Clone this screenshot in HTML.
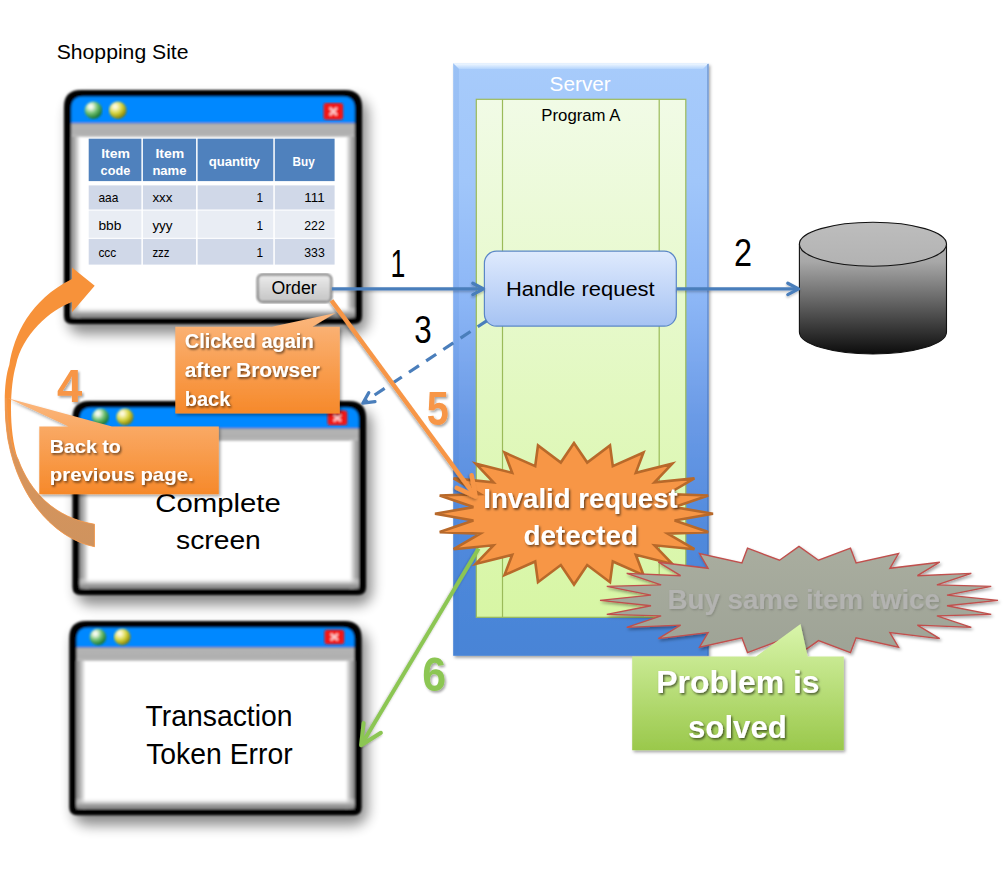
<!DOCTYPE html>
<html><head><meta charset="utf-8"><title>Shopping Site - Transaction Token</title>
<style>html,body{margin:0;padding:0;background:#fff;width:1007px;height:889px;overflow:hidden}svg{display:block;font-family:"Liberation Sans",sans-serif}</style>
</head><body>
<svg width="1007" height="889" viewBox="0 0 1007 889" font-family="Liberation Sans, sans-serif">

<defs>
<filter id="shadow" x="-20%" y="-20%" width="140%" height="140%"><feGaussianBlur stdDeviation="6.5"/></filter>
<filter id="soft" x="-5%" y="-5%" width="110%" height="110%"><feGaussianBlur stdDeviation="0.9"/></filter>
<filter id="tsh" x="-10%" y="-20%" width="120%" height="150%"><feDropShadow dx="1.3" dy="1.6" stdDeviation="0.9" flood-color="#000" flood-opacity="0.6"/></filter>
<filter id="tsh2" x="-10%" y="-20%" width="130%" height="150%"><feDropShadow dx="1.5" dy="1.8" stdDeviation="1" flood-color="#000" flood-opacity="0.35"/></filter>
<filter id="tsh3" x="-10%" y="-20%" width="120%" height="150%"><feDropShadow dx="1" dy="1.2" stdDeviation="0.8" flood-color="#000" flood-opacity="0.18"/></filter>
<filter id="bsh" x="-10%" y="-10%" width="130%" height="140%"><feDropShadow dx="1.5" dy="2" stdDeviation="1.5" flood-color="#000" flood-opacity="0.35"/></filter>
<filter id="ash" x="-5%" y="-50%" width="110%" height="200%"><feDropShadow dx="0" dy="1.5" stdDeviation="1" flood-color="#000" flood-opacity="0.25"/></filter>
<filter id="lsh" x="-10%" y="-10%" width="130%" height="130%"><feDropShadow dx="-1" dy="1.5" stdDeviation="1.2" flood-color="#000" flood-opacity="0.3"/></filter>
<linearGradient id="gL" x1="0" x2="1" y1="0" y2="0"><stop offset="0" stop-color="#8a8a8a"/><stop offset="0.35" stop-color="#a9a9a9"/><stop offset="0.7" stop-color="#d5d5d5"/><stop offset="1" stop-color="#fff"/></linearGradient>
<linearGradient id="gR" x1="1" x2="0" y1="0" y2="0"><stop offset="0" stop-color="#8a8a8a"/><stop offset="0.35" stop-color="#a9a9a9"/><stop offset="0.7" stop-color="#d5d5d5"/><stop offset="1" stop-color="#fff"/></linearGradient>
<linearGradient id="gB" x1="0" x2="0" y1="1" y2="0"><stop offset="0" stop-color="#7e7e7e"/><stop offset="0.4" stop-color="#a8a8a8"/><stop offset="1" stop-color="#fff" stop-opacity="0"/></linearGradient>
<linearGradient id="gband" x1="0" x2="0" y1="0" y2="1"><stop offset="0" stop-color="#b4b4b4"/><stop offset="0.8" stop-color="#afafaf"/><stop offset="1" stop-color="#c4c4c4"/></linearGradient>
<radialGradient id="ballG" cx="0.35" cy="0.3" r="0.78"><stop offset="0" stop-color="#ffffff"/><stop offset="0.15" stop-color="#eef8e6"/><stop offset="0.5" stop-color="#6cbf6e"/><stop offset="1" stop-color="#05601c"/></radialGradient>
<radialGradient id="ballY" cx="0.35" cy="0.3" r="0.78"><stop offset="0" stop-color="#ffffff"/><stop offset="0.15" stop-color="#fbf6c8"/><stop offset="0.5" stop-color="#d6d43a"/><stop offset="1" stop-color="#6c6a00"/></radialGradient>
<linearGradient id="btn" x1="0" x2="0" y1="0" y2="1"><stop offset="0" stop-color="#ececec"/><stop offset="1" stop-color="#c4c4c4"/></linearGradient>
<linearGradient id="srv" x1="0" x2="0" y1="0" y2="1"><stop offset="0" stop-color="#a7cbfb"/><stop offset="0.2" stop-color="#a0c6fa"/><stop offset="0.4" stop-color="#8cb6f6"/><stop offset="0.6" stop-color="#6a9ae6"/><stop offset="0.8" stop-color="#5089dc"/><stop offset="1" stop-color="#4884d6"/></linearGradient>
<linearGradient id="bevT" x1="0" x2="0" y1="0" y2="1"><stop offset="0" stop-color="#f4faff"/><stop offset="1" stop-color="#b4d4fc"/></linearGradient>
<linearGradient id="grn" x1="0" x2="0" y1="0" y2="1"><stop offset="0" stop-color="#f1fbe6"/><stop offset="1" stop-color="#d7f6a4"/></linearGradient>
<linearGradient id="hr" x1="0" x2="0" y1="0" y2="1"><stop offset="0" stop-color="#dfeafd"/><stop offset="1" stop-color="#a6c3f3"/></linearGradient>
<linearGradient id="cyl" gradientUnits="userSpaceOnUse" x1="0" x2="0" y1="222" y2="354"><stop offset="0" stop-color="#bdbdbd"/><stop offset="0.3" stop-color="#a8a8a8"/><stop offset="1" stop-color="#0c0c0c"/></linearGradient>
<linearGradient id="cylTop" x1="0" x2="0" y1="0" y2="1"><stop offset="0" stop-color="#bdbdbd"/><stop offset="1" stop-color="#b2b2b2"/></linearGradient>
<linearGradient id="cal" x1="0" x2="0" y1="0" y2="1"><stop offset="0" stop-color="#fbb77e"/><stop offset="1" stop-color="#f6892a"/></linearGradient>
<linearGradient id="gcal" x1="0" x2="0" y1="0" y2="1"><stop offset="0" stop-color="#d9f5ab"/><stop offset="1" stop-color="#9ac84b"/></linearGradient>
<linearGradient id="tan" gradientUnits="userSpaceOnUse" x1="0" x2="0" y1="398" y2="546"><stop offset="0" stop-color="#f0964a"/><stop offset="0.35" stop-color="#d9955c"/><stop offset="1" stop-color="#cf935e"/></linearGradient>
<linearGradient id="gstar" x1="0" x2="0" y1="0" y2="1"><stop offset="0" stop-color="#a9ad9f"/><stop offset="1" stop-color="#9ea396"/></linearGradient>
</defs>

<rect width="1007" height="889" fill="#fff"/>
<text x="56.70" y="58.8" font-size="19.69" font-weight="normal" fill="#000" textLength="131.85" lengthAdjust="spacingAndGlyphs" >Shopping Site</text>
<rect x="68" y="99" width="300" height="235" rx="14" fill="#000" opacity="0.45" filter="url(#shadow)"/>
<g filter="url(#soft)">
<path d="M81,90 H345 Q362,90 362,107 V316 Q362,324 354,324 H72 Q64,324 64,316 V107 Q64,90 81,90 Z" fill="#000"/>
<path d="M83.2,96.5 H342.8 Q354.8,96.5 354.8,108.5 V123.3 H71.2 V108.5 Q71.2,96.5 83.2,96.5 Z" fill="#0088ff"/>
<rect x="71.2" y="123.3" width="283.6" height="13.5" fill="url(#gband)"/>
<path d="M71.2,136.8 H354.8 V313.5 Q354.8,317.5 350.8,317.5 H75.2 Q71.2,317.5 71.2,313.5 Z" fill="#fff"/>
<rect x="71.2" y="136.8" width="9" height="180.7" fill="url(#gL)"/>
<rect x="345.8" y="136.8" width="9" height="180.7" fill="url(#gR)"/>
<rect x="71.2" y="306.5" width="283.6" height="11" fill="url(#gB)"/>
</g>
<circle cx="93.4" cy="110.2" r="8.7" fill="url(#ballG)" filter="url(#soft)"/>
<circle cx="117.80000000000001" cy="110.2" r="8.7" fill="url(#ballY)" filter="url(#soft)"/>
<g filter="url(#soft)"><rect x="323.6" y="103" width="19.5" height="16.8" rx="2.5" fill="#f21616"/>
<path d="M329.84000000000003,107.70400000000001 L336.86,115.096 M336.86,107.70400000000001 L329.84000000000003,115.096" stroke="#ffe8e8" stroke-width="2.4" opacity="0.85"/></g>
<rect x="76.5" y="410" width="295.5" height="195" rx="14" fill="#000" opacity="0.45" filter="url(#shadow)"/>
<g filter="url(#soft)">
<path d="M89.5,401 H349.0 Q366.0,401 366.0,418 V587 Q366.0,595 358.0,595 H80.5 Q72.5,595 72.5,587 V418 Q72.5,401 89.5,401 Z" fill="#000"/>
<path d="M91.7,407.5 H346.8 Q358.8,407.5 358.8,419.5 V428.5 H79.7 V419.5 Q79.7,407.5 91.7,407.5 Z" fill="#0088ff"/>
<rect x="79.7" y="428.5" width="279.1" height="12.0" fill="url(#gband)"/>
<path d="M79.7,440.5 H358.8 V584.5 Q358.8,588.5 354.8,588.5 H83.7 Q79.7,588.5 79.7,584.5 Z" fill="#fff"/>
<rect x="79.7" y="440.5" width="9" height="148.0" fill="url(#gL)"/>
<rect x="349.8" y="440.5" width="9" height="148.0" fill="url(#gR)"/>
<rect x="79.7" y="577.5" width="279.1" height="11" fill="url(#gB)"/>
</g>
<circle cx="100.5" cy="417" r="8.5" fill="url(#ballG)" filter="url(#soft)"/>
<circle cx="124.9" cy="417" r="8.5" fill="url(#ballY)" filter="url(#soft)"/>
<g filter="url(#soft)"><rect x="327.5" y="410.6" width="19.7" height="14.6" rx="2.5" fill="#f21616"/>
<path d="M333.804,414.68800000000005 L340.896,421.112 M340.896,414.68800000000005 L333.804,421.112" stroke="#ffe8e8" stroke-width="2.4" opacity="0.85"/></g>
<rect x="73.3" y="630" width="294.3" height="195.2" rx="14" fill="#000" opacity="0.45" filter="url(#shadow)"/>
<g filter="url(#soft)">
<path d="M86.3,621 H344.6 Q361.6,621 361.6,638 V807.2 Q361.6,815.2 353.6,815.2 H77.3 Q69.3,815.2 69.3,807.2 V638 Q69.3,621 86.3,621 Z" fill="#000"/>
<path d="M88.5,627.5 H342.40000000000003 Q354.40000000000003,627.5 354.40000000000003,639.5 V647.5 H76.5 V639.5 Q76.5,627.5 88.5,627.5 Z" fill="#0088ff"/>
<rect x="76.5" y="647.5" width="277.90000000000003" height="13.299999999999997" fill="url(#gband)"/>
<path d="M76.5,660.8 H354.40000000000003 V804.7 Q354.40000000000003,808.7 350.40000000000003,808.7 H80.5 Q76.5,808.7 76.5,804.7 Z" fill="#fff"/>
<rect x="76.5" y="660.8" width="9" height="147.89999999999998" fill="url(#gL)"/>
<rect x="345.40000000000003" y="660.8" width="9" height="147.89999999999998" fill="url(#gR)"/>
<rect x="76.5" y="797.7" width="277.90000000000003" height="11" fill="url(#gB)"/>
</g>
<circle cx="97.9" cy="637" r="8.3" fill="url(#ballG)" filter="url(#soft)"/>
<circle cx="122.30000000000001" cy="637" r="8.3" fill="url(#ballY)" filter="url(#soft)"/>
<g filter="url(#soft)"><rect x="324.50000000000006" y="629.7" width="19.7" height="14.6" rx="2.5" fill="#f21616"/>
<path d="M330.80400000000003,633.788 L337.8960000000001,640.212 M337.8960000000001,633.788 L330.80400000000003,640.212" stroke="#ffe8e8" stroke-width="2.4" opacity="0.85"/></g>
<rect x="88.7" y="138.7" width="245.90000000000003" height="42.4" fill="#4f81bd"/>
<rect x="88.7" y="185.4" width="245.90000000000003" height="24.099999999999994" fill="#d0d8e8"/>
<rect x="88.7" y="210.6" width="245.90000000000003" height="27.200000000000017" fill="#e9edf4"/>
<rect x="88.7" y="238.9" width="245.90000000000003" height="25.700000000000017" fill="#d0d8e8"/>
<rect x="141.4" y="138" width="1.5" height="127" fill="#fff"/>
<rect x="196.1" y="138" width="1.5" height="127" fill="#fff"/>
<rect x="273.3" y="138" width="1.5" height="127" fill="#fff"/>
<text x="101.20" y="158.3" font-size="12.43" font-weight="bold" fill="#fff" textLength="28.82" lengthAdjust="spacingAndGlyphs" >Item</text>
<text x="100.60" y="174.9" font-size="12.43" font-weight="bold" fill="#fff" textLength="29.59" lengthAdjust="spacingAndGlyphs" >code</text>
<text x="155.40" y="158.3" font-size="12.43" font-weight="bold" fill="#fff" textLength="28.82" lengthAdjust="spacingAndGlyphs" >Item</text>
<text x="152.40" y="174.9" font-size="12.43" font-weight="bold" fill="#fff" textLength="34.03" lengthAdjust="spacingAndGlyphs" >name</text>
<text x="208.70" y="166.2" font-size="12.43" font-weight="bold" fill="#fff" textLength="51.08" lengthAdjust="spacingAndGlyphs" >quantity</text>
<text x="292.60" y="166.2" font-size="12.43" font-weight="bold" fill="#fff" textLength="22.19" lengthAdjust="spacingAndGlyphs" >Buy</text>
<text x="98.40" y="202.1" font-size="13.40" font-weight="normal" fill="#000" textLength="19.88" lengthAdjust="spacingAndGlyphs" >aaa</text>
<text x="152.40" y="202.1" font-size="13.40" font-weight="normal" fill="#000" textLength="20.10" lengthAdjust="spacingAndGlyphs" >xxx</text>
<text x="256.40" y="202.1" font-size="12.85" font-weight="normal" fill="#000" textLength="6.61" lengthAdjust="spacingAndGlyphs" >1</text>
<text x="304.30" y="202.1" font-size="12.85" font-weight="normal" fill="#000" textLength="20.50" lengthAdjust="spacingAndGlyphs" >111</text>
<text x="98.40" y="229.9" font-size="13.40" font-weight="normal" fill="#000" textLength="22.88" lengthAdjust="spacingAndGlyphs" >bbb</text>
<text x="152.40" y="229.9" font-size="13.40" font-weight="normal" fill="#000" textLength="20.20" lengthAdjust="spacingAndGlyphs" >yyy</text>
<text x="256.40" y="229.9" font-size="12.85" font-weight="normal" fill="#000" textLength="6.61" lengthAdjust="spacingAndGlyphs" >1</text>
<text x="304.30" y="229.9" font-size="12.85" font-weight="normal" fill="#000" textLength="20.48" lengthAdjust="spacingAndGlyphs" >222</text>
<text x="98.40" y="256.7" font-size="13.40" font-weight="normal" fill="#000" textLength="17.90" lengthAdjust="spacingAndGlyphs" >ccc</text>
<text x="152.40" y="256.7" font-size="13.40" font-weight="normal" fill="#000" textLength="17.10" lengthAdjust="spacingAndGlyphs" >zzz</text>
<text x="256.40" y="256.7" font-size="12.85" font-weight="normal" fill="#000" textLength="6.61" lengthAdjust="spacingAndGlyphs" >1</text>
<text x="304.30" y="256.7" font-size="12.85" font-weight="normal" fill="#000" textLength="20.48" lengthAdjust="spacingAndGlyphs" >333</text>
<rect x="257.6" y="274.5" width="73.8" height="27.6" rx="5" fill="url(#btn)" stroke="#111" stroke-width="1.3" filter="url(#soft)"/>
<text x="271.40" y="293.7" font-size="17.46" font-weight="normal" fill="#000" textLength="45.22" lengthAdjust="spacingAndGlyphs" >Order</text>
<text x="155.30" y="512.3" font-size="26.54" font-weight="normal" fill="#000" textLength="125.50" lengthAdjust="spacingAndGlyphs" >Complete</text>
<text x="176.00" y="548.9" font-size="26.50" font-weight="normal" fill="#000" textLength="84.84" lengthAdjust="spacingAndGlyphs" >screen</text>
<text x="145.60" y="726.0" font-size="28.77" font-weight="normal" fill="#000" textLength="146.93" lengthAdjust="spacingAndGlyphs" >Transaction</text>
<text x="146.20" y="764.1" font-size="28.77" font-weight="normal" fill="#000" textLength="146.46" lengthAdjust="spacingAndGlyphs" >Token Error</text>
<rect x="453.2" y="63.3" width="255.4" height="592.5" fill="url(#srv)" filter="url(#bsh)"/>
<path d="M453.2,63.3 H708.6 L703,69 H459 Z" fill="url(#bevT)"/>
<path d="M453.2,63.3 L459,69 V650 L453.2,655.8 Z" fill="#3f78d0" opacity="0.12"/>
<line x1="708" y1="64" x2="708" y2="655.8" stroke="#3a64a8" stroke-width="1.2" opacity="0.6"/>
<rect x="476.3" y="99.3" width="209.5" height="518" fill="url(#grn)" stroke="#9bbb59" stroke-width="1.2"/>
<line x1="502.5" y1="99.3" x2="502.5" y2="617.3" stroke="#9bbb59" stroke-width="1.2"/>
<line x1="659.2" y1="99.3" x2="659.2" y2="617.3" stroke="#9bbb59" stroke-width="1.2"/>
<text x="549.60" y="90.7" font-size="19.83" font-weight="normal" fill="#fff" textLength="61.11" lengthAdjust="spacingAndGlyphs" >Server</text>
<text x="541.30" y="120.5" font-size="15.78" font-weight="normal" fill="#000" textLength="79.19" lengthAdjust="spacingAndGlyphs" >Program A</text>
<rect x="484.4" y="251.2" width="191.9" height="74.9" rx="12" fill="url(#hr)" stroke="#5b87c7" stroke-width="1.2"/>
<text x="506.00" y="295.7" font-size="19.83" font-weight="normal" fill="#000" textLength="148.65" lengthAdjust="spacingAndGlyphs" >Handle request</text>
<path d="M799.4,244.2 V332 A73.55,22 0 0 0 946.5,332 V244.2 Z" fill="url(#cyl)" stroke="#111" stroke-width="1.1"/>
<ellipse cx="872.95" cy="244.2" rx="73.55" ry="22" fill="url(#cylTop)" stroke="#111" stroke-width="1.1"/>
<g filter="url(#ash)"><line x1="331.8" y1="288.9" x2="482" y2="288.9" stroke="#4a7ebb" stroke-width="3.1"/>
<path d="M472.8,283.2 L483.6,288.9 L472.8,294.6" fill="none" stroke="#4a7ebb" stroke-width="3.3" stroke-linejoin="round" stroke-linecap="round"/>
<line x1="676.5" y1="288.9" x2="797" y2="288.9" stroke="#4a7ebb" stroke-width="3.1"/>
<path d="M787.8,283.2 L798.6,288.9 L787.8,294.6" fill="none" stroke="#4a7ebb" stroke-width="3.3" stroke-linejoin="round" stroke-linecap="round"/></g>
<line x1="486.7" y1="320.8" x2="364" y2="402" stroke="#4a7ebb" stroke-width="3.2" stroke-dasharray="12,8.6" stroke-dashoffset="1.2"/>
<path d="M368.8,392.6 L362.8,403.2 L375,401.6" fill="none" stroke="#4a7ebb" stroke-width="3.2" stroke-linejoin="round" stroke-linecap="round"/>
<text x="390.50" y="276.6" font-size="38.13" font-weight="normal" fill="#000" textLength="14.83" lengthAdjust="spacingAndGlyphs" >1</text>
<text x="734.00" y="265.9" font-size="38.13" font-weight="normal" fill="#000" textLength="18.04" lengthAdjust="spacingAndGlyphs" >2</text>
<text x="414.20" y="342.9" font-size="38.55" font-weight="normal" fill="#000" textLength="17.44" lengthAdjust="spacingAndGlyphs" >3</text>
<path d="M94.5,546.7 C60,540 20,505 8,440 C3,410 4,380 9.3,365 C14,335 30,300 72,279.1 L72,267.4 L94.7,285.7 L72,312.2 L72,302 C50,310 22,335 16,365 C10,385 8,430 18,459 C30,492 55,518 94.5,524.2 Z" fill="#f7923a"/>
<path d="M94.5,546.7 C60,540 20,505 8,440 C5,420 5,405 6,398 C8,430 12,450 18,459 C30,492 55,518 94.5,524.2 Z" fill="url(#tan)" stroke="#f39a50" stroke-width="0.8"/>
<path d="M175.3,326.7 H272 L335.5,313 L312.5,326.7 H339.8 V413.4 H175.3 Z" fill="url(#cal)" filter="url(#bsh)"/>
<text x="184.70" y="347.9" font-size="19.83" font-weight="bold" fill="#fff" textLength="128.94" lengthAdjust="spacingAndGlyphs" filter="url(#tsh)">Clicked again</text>
<text x="184.70" y="377.4" font-size="19.83" font-weight="bold" fill="#fff" textLength="135.34" lengthAdjust="spacingAndGlyphs" filter="url(#tsh)">after Browser</text>
<text x="184.70" y="405.8" font-size="19.83" font-weight="bold" fill="#fff" textLength="45.69" lengthAdjust="spacingAndGlyphs" filter="url(#tsh)">back</text>
<path d="M39.3,426.4 H68.5 L8,398.3 L112,426.4 H218.8 V494.2 H39.3 Z" fill="url(#cal)" filter="url(#bsh)"/>
<text x="49.80" y="452.6" font-size="19.13" font-weight="bold" fill="#fff" textLength="71.05" lengthAdjust="spacingAndGlyphs" filter="url(#tsh)">Back to</text>
<text x="49.80" y="480.5" font-size="19.13" font-weight="bold" fill="#fff" textLength="143.85" lengthAdjust="spacingAndGlyphs" filter="url(#tsh)">previous page.</text>
<text x="57.00" y="401.7" font-size="45.67" font-weight="bold" fill="#f79646" textLength="25.25" lengthAdjust="spacingAndGlyphs" filter="url(#tsh2)">4</text>
<g filter="url(#lsh)"><line x1="478.6" y1="548.5" x2="362.5" y2="743" stroke="#8cc653" stroke-width="4"/>
<path d="M363.6,722.9 L361.1,745.2 L380.9,732.8" fill="none" stroke="#8cc653" stroke-width="4" stroke-linejoin="round" stroke-linecap="round"/></g>
<text x="422.20" y="690.8" font-size="48.46" font-weight="bold" fill="#8cc653" textLength="23.85" lengthAdjust="spacingAndGlyphs" filter="url(#tsh2)">6</text>
<path d="M574.0,443.0 L560.8,462.6 L538.0,445.4 L535.2,466.1 L504.5,452.5 L512.2,472.8 L475.7,463.7 L493.5,482.3 L453.6,478.4 L480.3,494.0 L439.7,495.5 L473.4,507.1 L435.0,513.8 L473.4,520.5 L439.7,532.1 L480.3,533.6 L453.6,549.2 L493.5,545.3 L475.7,563.9 L512.2,554.8 L504.5,575.1 L535.2,561.5 L538.0,582.2 L560.8,565.0 L574.0,584.6 L587.2,565.0 L610.0,582.2 L612.8,561.5 L643.5,575.1 L635.8,554.8 L672.3,563.9 L654.5,545.3 L694.4,549.2 L667.7,533.6 L708.3,532.1 L674.6,520.5 L713.0,513.8 L674.6,507.1 L708.3,495.5 L667.7,494.0 L694.4,478.4 L654.5,482.3 L672.3,463.7 L635.8,472.8 L643.5,452.5 L612.8,466.1 L610.0,445.4 L587.2,462.6 Z" fill="#f79646" stroke="#b8692a" stroke-width="2.6" stroke-linejoin="miter"/>
<text x="483.30" y="507.8" font-size="27.93" font-weight="bold" fill="#fff" textLength="194.34" lengthAdjust="spacingAndGlyphs" filter="url(#tsh)">Invalid request</text>
<text x="523.60" y="544.6" font-size="27.93" font-weight="bold" fill="#fff" textLength="114.33" lengthAdjust="spacingAndGlyphs" filter="url(#tsh)">detected</text>
<g filter="url(#lsh)"><line x1="331.5" y1="300.5" x2="474" y2="494.5" stroke="#f79646" stroke-width="4.5"/>
<path d="M471.7,475.3 L475.6,496.5 L456.7,487.9" fill="none" stroke="#f79646" stroke-width="4.5" stroke-linejoin="round" stroke-linecap="round"/></g>
<text x="426.80" y="424.9" font-size="47.35" font-weight="bold" fill="#f79646" textLength="22.05" lengthAdjust="spacingAndGlyphs" filter="url(#tsh2)">5</text>
<path d="M799.0,546.4 L779.5,560.2 L747.5,548.2 L741.9,563.0 L699.5,553.6 L708.1,568.3 L658.3,562.2 L680.6,575.7 L626.7,573.4 L661.1,584.9 L606.8,586.4 L651.0,595.1 L600.0,600.4 L651.0,605.7 L606.8,614.4 L661.1,615.9 L626.7,627.4 L680.6,625.1 L658.3,638.6 L708.1,632.5 L699.5,647.2 L741.9,637.8 L747.5,652.6 L779.5,640.6 L799.0,654.4 L818.5,640.6 L850.5,652.6 L856.1,637.8 L898.5,647.2 L889.9,632.5 L939.7,638.6 L917.4,625.1 L971.3,627.4 L936.9,615.9 L991.2,614.4 L947.0,605.7 L998.0,600.4 L947.0,595.1 L991.2,586.4 L936.9,584.9 L971.3,573.4 L917.4,575.7 L939.7,562.2 L889.9,568.3 L898.5,553.6 L856.1,563.0 L850.5,548.2 L818.5,560.2 Z" fill="url(#gstar)" stroke="#c0504d" stroke-width="1.4" filter="url(#bsh)"/>
<text x="667.60" y="608.5" font-size="27.93" font-weight="bold" fill="#b3b3b1" textLength="272.33" lengthAdjust="spacingAndGlyphs" filter="url(#tsh3)">Buy same item twice</text>
<path d="M632.2,656.5 H756 L800.5,624 L807.7,656.5 H843.8 V750.3 H632.2 Z" fill="url(#gcal)" filter="url(#bsh)"/>
<text x="656.30" y="693.0" font-size="31.42" font-weight="bold" fill="#fff" textLength="163.23" lengthAdjust="spacingAndGlyphs" filter="url(#tsh)">Problem is</text>
<text x="688.00" y="737.5" font-size="31.42" font-weight="bold" fill="#fff" textLength="98.94" lengthAdjust="spacingAndGlyphs" filter="url(#tsh)">solved</text>
</svg>
</body></html>
